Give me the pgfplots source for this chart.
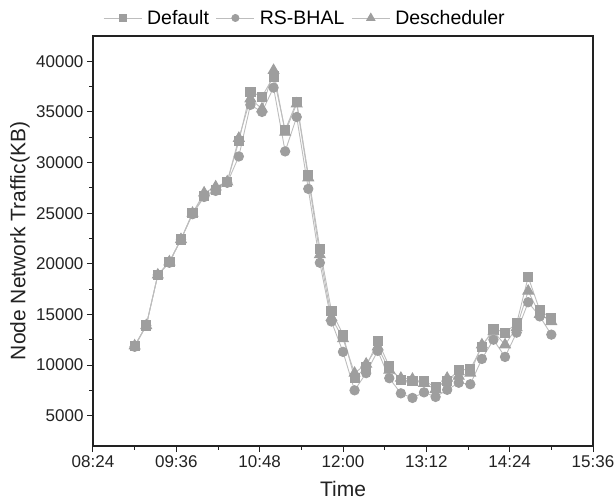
\documentclass[border=0pt]{standalone}
\usepackage{fontspec}
\setmainfont{Liberation Sans}
\usepackage{pgfplots}
\pgfplotsset{compat=1.18}
\usepackage{pgfplotstable}

\definecolor{mk}{HTML}{9E9E9E}
\definecolor{ln}{HTML}{BDBDBD}
\definecolor{ax}{HTML}{222222}

% time in minutes since 00:00
\pgfplotstableread{
t   def    rs     desc
540 11900  11800  11900
550 13900  13900  13900
560 18900  18900  18900
570 20200  20100  20200
580 22400  22400  22400
590 25000  24900  25000
600 26700  26600  27000
610 27300  27200  27600
620 28100  28000  28100
630 32100  30600  32400
640 37000  35700  36300
650 36500  35000  35300
660 38500  37400  39100
670 33200  31100  33000
680 36000  34500  35800
690 28800  27400  28500
700 21500  20100  20900
710 15350  14300  14700
720 13000  11300  12600
730 8700   7500   9200
740 9800   9200   10100
750 12400  11400  11800
760 9850   8700   9500
770 8500   7200   8700
780 8400   6750   8600
790 8450   7300   8200
800 7800   6850   7600
810 8400   7550   8700
820 9500   8250   8900
830 9600   8100   9200
840 11800  10600  12000
850 13600  12500  13300
860 13200  10800  12000
870 14100  13200  13700
880 18700  16200  17300
890 15400  14800  15000
900 14600  13000  14300
}\traffic

\begin{document}
\begin{tikzpicture}
\path[use as bounding box] (-93pt,-55pt) rectangle (522pt,446pt);
\begin{axis}[
    scale only axis,
    width=500pt, height=410pt,
    at={(0,0)}, anchor=south west,
    xmin=504, xmax=936,
    ymin=2000, ymax=42500,
    xtick={504,576,648,720,792,864,936},
    xticklabels={08:24,09:36,10:48,12:00,13:12,14:24,15:36},
    ytick={5000,10000,...,40000},
    scaled y ticks=false,
    minor x tick num=1,
    minor y tick num=1,
    xtick pos=bottom, ytick pos=left,
    tick align=outside,
    major tick length=6pt,
    minor tick length=3.5pt,
    axis line style={ax, line width=1.1pt},
    tick style={ax, line width=1pt},
    /pgf/number format/1000 sep={},
    /pgf/number format/assume math mode=true,
    tick label style={font=\fontsize{17}{19}\selectfont, text=ax},
    xlabel={Time},
    ylabel={Node Network Traffic(KB)},
    label style={font=\fontsize{21}{24}\selectfont, text=ax},
    xlabel style={at={(axis description cs:0.5,-0.104)}, anchor=center},
    ylabel style={at={(axis description cs:-0.146,0.5)}, anchor=center},
    legend columns=-1,
    legend style={draw=none, fill=none, at={(0.424,1.0)}, anchor=south, yshift=6pt,
        font=\fontsize{19.5}{22}\selectfont,
        /tikz/every even column/.append style={column sep=5pt},
        /tikz/every odd column/.append style={column sep=3pt}},
    legend image code/.code={\draw[mark repeat=2,mark phase=2,#1,
        /tikz/every mark/.append style={scale=0.75}]
        plot coordinates {(0pt,0pt) (19pt,0pt) (38pt,0pt)};},
    every axis plot/.append style={ln, line width=0.9pt},
]
\addplot[mark=square*, mark size=4.6pt, mark options={fill=mk, draw=mk}] table[x=t, y=def] {\traffic};
\addplot[mark=*, mark size=4.7pt, mark options={fill=mk, draw=mk}] table[x=t, y=rs] {\traffic};
\addplot[mark=triangle*, mark size=6.2pt, mark options={fill=mk, draw=mk}] table[x=t, y=desc] {\traffic};
\legend{Default, RS-BHAL, Descheduler}
\end{axis}
\end{tikzpicture}
\end{document}
